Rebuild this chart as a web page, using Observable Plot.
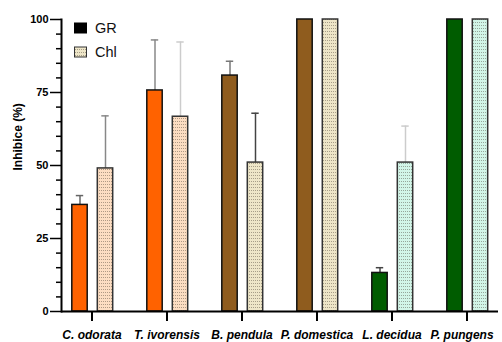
<!DOCTYPE html>
<html>
<head>
<meta charset="utf-8">
<script src="https://cdn.jsdelivr.net/npm/d3@7"></script>
<script src="https://cdn.jsdelivr.net/npm/@observablehq/plot@0.6"></script>
<style>
  html, body { margin: 0; padding: 0; background: white; }
  #chart { width: 502px; height: 342px; }
</style>
</head>
<body>
<div id="chart"></div>
<script>
// ---- data ----
const categories = ["C. odorata", "T. ivorensis", "B. pendula", "P. domestica", "L. decidua", "P. pungens"];
const series = ["GR", "Chl"];
const grValues = [36.5, 75.7, 80.8, 100, 13.2, 100];
const grErrors = [3.2, 17.3, 4.9, 0, 1.8, 0];
const chlValues = [49, 66.7, 51, 100, 51, 100];
const chlErrors = [18, 25.6, 16.9, 0, 12.5, 0];
const yTicks = [0, 25, 50, 75, 100];

// ---- styles (kept apart from data) ----
const groupOf = [0, 0, 1, 1, 2, 2];
const grColors = ["#FF6200", "#8F5C1E", "#005C00"];
const chlColors = ["#FCDDC2", "#EEE6C8", "#D2F5E8"];
const grErrColors = ["#666", "#888", "#777", "#666", "#444", "#666"];
const chlErrColors = ["#888", "#ccc", "#444", "#888", "#ccc", "#888"];

const rows = categories.map((c, i) => ({
  category: c, i,
  gr: grValues[i], grErr: grErrors[i],
  chl: chlValues[i], chlErr: chlErrors[i]
}));

const half = 37.8;
const grDx = -12, chlDx = 13.5;
const labelStyle = { tickSize: 0, tickPadding: 18.5, fontSize: 12, fontWeight: "bold", fontStyle: "italic", label: null };

const svg = Plot.plot({
  width: 502,
  height: 342,
  marginLeft: 61,
  marginRight: 4,
  marginTop: 19,
  marginBottom: 31,
  style: { fontFamily: "'Liberation Sans', Arial, sans-serif", background: "white", color: "black" },
  x: { domain: categories, range: [52.2, 505.8], padding: 0, label: null },
  y: { domain: [0, 100], label: null },
  color: { type: "identity" },
  marks: [
    Plot.axisY({ ticks: d3.range(0, 101, 5).filter(v => v % 25 !== 0), tickSize: 5, strokeWidth: 1.5, tickFormat: () => "", label: null }),
    Plot.axisY({ ticks: yTicks, tickSize: 11, tickPadding: 2, strokeWidth: 1.5, fontSize: 11, fontWeight: "bold", label: null }),
    Plot.axisX({ tickSize: 10, strokeWidth: 2, tickFormat: () => "", label: null }),
    Plot.axisX({ ...labelStyle, ticks: categories.slice(0, 5) }),
    Plot.axisX({ ...labelStyle, ticks: categories.slice(5), dx: -5 }),
    // error bars
    Plot.ruleX(rows.filter(d => d.grErr > 0), { x: "category", y1: "gr", y2: d => d.gr + d.grErr, dx: grDx, stroke: d => grErrColors[d.i], strokeWidth: 1.5 }),
    Plot.tickY(rows.filter(d => d.grErr > 0), { x: "category", y: d => d.gr + d.grErr, dx: grDx, insetLeft: half - 4, insetRight: half - 4, stroke: d => grErrColors[d.i], strokeWidth: 1.5 }),
    Plot.ruleX(rows.filter(d => d.chlErr > 0), { x: "category", y1: "chl", y2: d => d.chl + d.chlErr, dx: chlDx, stroke: d => chlErrColors[d.i], strokeWidth: 1.5 }),
    Plot.tickY(rows.filter(d => d.chlErr > 0), { x: "category", y: d => d.chl + d.chlErr, dx: chlDx, insetLeft: half - 4, insetRight: half - 4, stroke: d => chlErrColors[d.i], strokeWidth: 1.5 }),
    // bars
    Plot.barY(rows, { x: "category", y: "gr", fill: d => grColors[groupOf[d.i]], stroke: "#111", strokeWidth: 1.5, insetLeft: half + grDx - 8, insetRight: half - grDx - 8 }),
    Plot.barY(rows, { x: "category", y: "chl", fill: d => `url(#dots-${groupOf[d.i]})`, stroke: "#333", strokeWidth: 1.5, insetLeft: half + chlDx - 8, insetRight: half - chlDx - 8 }),
    // axis lines
    Plot.frame({ anchor: "left", strokeWidth: 2 }),
    Plot.ruleY([0], { strokeWidth: 2 }),
    // y label
    Plot.text(["Inhibice (%)"], { frameAnchor: "left", rotate: -90, dx: -43, dy: 5, fontWeight: "bold", fontSize: 12, fill: "black" })
  ]
});

// patterns
const NS = "http://www.w3.org/2000/svg";
const defs = document.createElementNS(NS, "defs");
chlColors.forEach((c, k) => {
  const p = document.createElementNS(NS, "pattern");
  p.setAttribute("id", `dots-${k}`);
  p.setAttribute("patternUnits", "userSpaceOnUse");
  p.setAttribute("width", "2");
  p.setAttribute("height", "3");
  const r = document.createElementNS(NS, "rect");
  r.setAttribute("width", "2"); r.setAttribute("height", "3"); r.setAttribute("fill", c);
  const dot = document.createElementNS(NS, "rect");
  dot.setAttribute("x", "1"); dot.setAttribute("y", "1");
  dot.setAttribute("width", "1"); dot.setAttribute("height", "1");
  dot.setAttribute("fill", "rgba(60,50,40,0.4)");
  p.appendChild(r); p.appendChild(dot);
  defs.appendChild(p);
});
svg.insertBefore(defs, svg.firstChild);

// legend
const lg = d3.select(svg).append("g")
  .attr("font-family", "'Liberation Sans', Arial, sans-serif")
  .attr("text-anchor", "start");
series.forEach((s, k) => {
  const y0 = 23 + k * 24;
  lg.append("rect").attr("x", 74.5).attr("y", y0).attr("width", 12).attr("height", 10)
    .attr("fill", k === 0 ? "#000" : "url(#dots-1)").attr("stroke", k === 0 ? "#000" : "#333").attr("stroke-width", 1);
  lg.append("text").attr("x", 95).attr("y", y0 + 5).attr("dy", "0.36em")
    .attr("font-size", 14.5).attr("fill", "#111").text(s);
});

document.getElementById("chart").appendChild(svg);
</script>
</body>
</html>
